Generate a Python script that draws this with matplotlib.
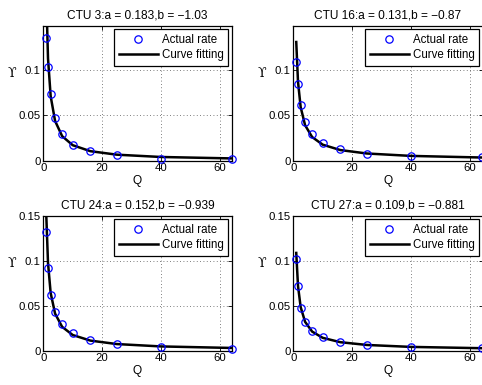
import matplotlib
matplotlib.use("Agg")
import matplotlib.pyplot as plt
from matplotlib.ticker import FixedLocator

plt.rcParams['font.family'] = ['Liberation Sans', 'DejaVu Sans']
plt.rcParams['font.size'] = 8
plt.rcParams['axes.unicode_minus'] = True

Q = [1, 1.6, 2.5, 4, 6.4, 10, 16, 25, 40, 64]

titles = ["CTU 3:a = 0.183,b = \u22121.03",
          "CTU 16:a = 0.131,b = \u22120.87",
          "CTU 24:a = 0.152,b = \u22120.939",
          "CTU 27:a = 0.109,b = \u22120.881"]

actual_3 = [0.1356, 0.1036, 0.0739, 0.0474, 0.0294, 0.0173, 0.0107, 0.0063, 0.0022, 0.0019]
actual_16 = [0.1085, 0.0846, 0.0614, 0.0430, 0.0291, 0.0198, 0.0126, 0.0074, 0.0052, 0.0037]
actual_24 = [0.1327, 0.0926, 0.0622, 0.0430, 0.0294, 0.0198, 0.0118, 0.0074, 0.0037, 0.0022]
actual_27 = [0.1025, 0.0717, 0.0474, 0.0320, 0.0220, 0.0148, 0.0099, 0.0063, 0.0037, 0.0026]

fit_3 = [0.183, 0.1128, 0.0712, 0.0439, 0.0271, 0.0171, 0.0105, 0.00664, 0.00410, 0.00252]
fit_16 = [0.131, 0.0870, 0.0591, 0.0392, 0.0261, 0.01766, 0.01172, 0.00795, 0.00529, 0.00351]
fit_24 = [0.152, 0.0978, 0.0643, 0.0414, 0.0266, 0.01748, 0.01125, 0.0074, 0.00476, 0.00306]
fit_27 = [0.109, 0.0721, 0.0486, 0.0322, 0.0213, 0.01433, 0.00947, 0.00640, 0.00423, 0.00279]

actuals = [actual_3, actual_16, actual_24, actual_27]
fits = [fit_3, fit_16, fit_24, fit_27]

x_ticks = [0, 20, 40, 60]
y_ticks_top = [0, 0.05, 0.1]
y_ticks_bottom = [0, 0.05, 0.1, 0.15]
y_tick_labels_top = ["0", "0.05", "0.1"]
y_tick_labels_bottom = ["0", "0.05", "0.1", "0.15"]

W, H = 482, 385
fig = plt.figure(figsize=(W / 100, H / 100), dpi=100)

aw = 188.4 / W
ah = 135 / H
positions = [
    (43.3 / W, 1 - 160.7 / H, aw, ah),
    (293.3 / W, 1 - 160.7 / H, 189.5 / W, ah),
    (43.3 / W, 1 - 350.7 / H, aw, ah),
    (293.3 / W, 1 - 350.7 / H, 189.5 / W, ah),
]

for i in range(4):
    ax = fig.add_axes(positions[i])
    ax.plot(Q, actuals[i], linestyle='none', marker='o', markersize=5.3,
            markerfacecolor='none', markeredgecolor='#0000ff', markeredgewidth=0.9,
            label='Actual rate', clip_on=False, zorder=3)
    ax.plot(Q, fits[i], color='black', linewidth=1.8, label='Curve fitting', zorder=2)
    xmax = 64 if i in (0, 2) else 64.35
    ax.set_xlim(0, xmax)
    ax.set_ylim(0, 0.149 if i < 2 else 0.1505)
    ax.xaxis.set_major_locator(FixedLocator(x_ticks))
    ax.set_xticklabels([str(t) for t in x_ticks])
    if i < 2:
        ax.set_yticks(y_ticks_top)
        ax.set_yticklabels(y_tick_labels_top)
    else:
        ax.set_yticks(y_ticks_bottom)
        ax.set_yticklabels(y_tick_labels_bottom)
    ax.tick_params(direction='in', length=3, width=0.6, top=True, right=True,
                   labelsize=8.2, pad=2, colors='black')
    ax.grid(True, linestyle=(0, (1, 3)), color='#555555', linewidth=0.6)
    for s in ax.spines.values():
        s.set_linewidth(0.9)
        s.set_color('black')
    ax.set_title(titles[i], fontsize=8.6, pad=5)
    ax.set_xlabel('Q', fontsize=8.6, labelpad=1)
    ax.set_ylabel('\u03d2', fontsize=9, rotation=0, family=['DejaVu Serif'])
    ax.yaxis.set_label_coords(-0.166, 0.60)
    leg = ax.legend(loc='upper right', fontsize=8.3, frameon=True, fancybox=False,
                    edgecolor='black', framealpha=1, borderpad=0.4,
                    handlelength=3.4, handletextpad=0.35, labelspacing=0.3,
                    borderaxespad=0.3, numpoints=1)
    leg.get_frame().set_linewidth(0.9)

fig.savefig('out.png', dpi=100)
